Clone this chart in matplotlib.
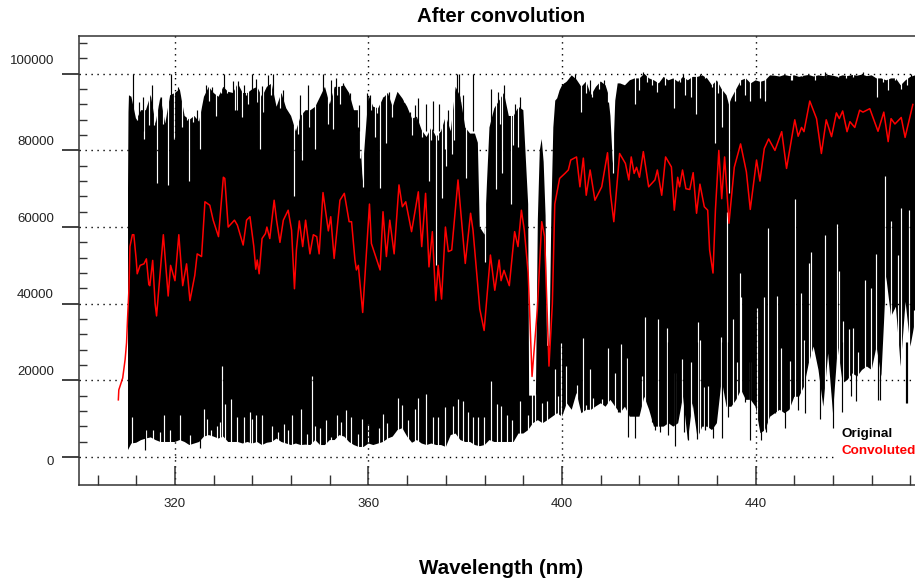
import matplotlib
matplotlib.use("Agg")
import matplotlib.pyplot as plt
from matplotlib.ticker import FixedLocator
from matplotlib.transforms import ScaledTranslation

# all intensities below are in thousands of counts

# upper edge of the original spectrum
hi_wl = [310.3, 310.4, 310.5, 311, 312, 313, 314, 315, 316, 317, 318, 319, 320, 321, 322, 323, 324, 325, 326, 327, 328, 329,
         330, 331, 332, 333, 334, 335, 336, 337, 338, 339, 340, 341, 342, 343, 344, 345, 346, 347, 348, 349,
         350, 351, 352, 353, 354, 355, 356, 357, 358, 358.8, 359, 360, 361, 362, 363, 364, 365, 366, 367, 368, 369,
         370, 371, 372, 373, 374, 375, 376, 377, 378, 379, 380, 381, 382, 382.6, 383, 384, 385, 386, 387, 388, 389,
         390, 391, 392, 393, 393.2, 394.6, 395, 395.4, 395.8, 396.2, 396.6, 396.9, 397.4, 397.8, 398.2, 398.6, 399, 399.5,
         400, 401, 402, 403, 404, 405, 406, 407, 408, 409, 409.5, 410, 410.5, 411, 411.5, 412, 413, 414, 415, 416, 417, 418, 419,
         420, 421, 422, 423, 424, 425, 426, 427, 428, 429, 430, 431, 432, 433, 434, 434.5, 435, 436, 437, 438, 439,
         440, 441, 442, 443, 444, 445, 446, 447, 448, 449, 450, 451, 452, 453, 454, 455, 456, 457, 458, 459,
         460, 461, 462, 463, 464, 465, 466, 467, 468, 469, 470, 471, 472, 473, 475]
hi_val = [70, 90, 94.4, 94, 88, 90.5, 90.5, 94.5, 87, 94, 87, 94.4, 95, 96, 89, 88, 89, 87.5, 94, 96.6, 95, 94,
          96.6, 95.3, 95, 97.5, 95, 95, 96, 96.6, 94, 96.6, 97.5, 91.4, 95, 91, 89, 85, 89, 90.5, 90.5, 91.4,
          94, 96.6, 92, 96.6, 96.6, 97, 95, 90.5, 90.5, 72, 78, 94.4, 91.4, 91, 93.6, 95, 91.4, 95.3, 93.6, 91.4, 88.3,
          88.8, 85.3, 83.5, 86, 83.5, 85, 89, 85, 96.6, 94, 86, 84.4, 84.4, 82, 60, 58, 86, 91, 93, 95, 89,
          89, 91.4, 90.5, 66, 16, 16, 62, 80, 83, 77, 63, 29, 29, 64, 86, 93, 93.6, 95.7,
          97, 98, 99.6, 98.5, 96.6, 98, 94.4, 96.6, 98, 97, 95, 89, 76.6, 93, 97.5, 97.5, 97, 98.3, 98.8, 98.8, 100, 98.8, 98.3,
          97.5, 99.2, 98.3, 98.8, 97.9, 99.2, 98.3, 99.2, 99.2, 99.6, 98.8, 97, 98.3, 96, 94.4, 92, 93.6, 96, 98.3, 98.8, 97.5,
          98.3, 97.9, 98.3, 99.6, 99.5, 99.3, 99.7, 99.4, 99.6, 99.2, 99.5, 99.7, 99.3, 99.6, 99.4, 99.7, 99.5, 99.2, 99.6, 99.4,
          99.7, 99.5, 99.8, 99.4, 99.6, 98.8, 98.8, 98.3, 98.8, 98.8, 97, 98.3, 99.2, 99.6, 99.6]

# lower edge of the original spectrum, one value per nm from 311 on
lo_wl = [310.3] + list(range(311, 474)) + [475]
lo_val = [1.8,
          3.5, 3.7, 4.4, 4.8, 5.1, 4.4, 3.9, 3.9, 3.9, 3.9, 4.4, 3.9, 3.1, 3.5, 3.9, 5.3, 5.7, 5.3, 4.8, 5.3,
          3.9, 3.9, 3.9, 3.5, 3.9, 3.5, 3.9, 3.1, 3.7, 3.9, 4.8, 3.9, 3.5, 3.1, 3.5, 3.1, 3.2, 3.1, 4.4, 3.1,
          3.1, 4.4, 4.4, 5.7, 5.3, 3.9, 3.1, 2.6, 2.6, 3.5, 3.1, 3.5, 3.9, 4.8, 5.3, 7, 7.5, 5.3, 3.7, 4.4,
          3.5, 3.1, 3.5, 3.1, 3.1, 2.6, 5.7, 6.1, 4.4, 3.9, 3.9, 3.1, 2.8, 3.1, 4.4, 3.9, 3.9, 3.9, 3.9, 3.9,
          6.1, 6.1, 7, 8.8, 9.6, 8.8, 9.6, 10.5, 11.4, 10.5, 14, 12.3, 16.7, 11.4, 12.3, 12.3, 13.2, 14,
          13.1, 14.9, 13.1, 11.4, 13.1, 10.5, 10.5, 10.5, 15.7, 12.3, 7.9, 7.9, 7.9, 8.8, 7.9, 8.8, 15.7, 4.4, 14, 4.9,
          7.9, 7.9, 7, 8.8, 20.1, 13.1, 13.1, 14.9, 17.5, 14.9, 14.9, 13.1, 6.2, 7, 10.5, 11.4, 12.3, 11.4, 12.3, 15.7,
          15.7, 18.3, 24.4, 28.8, 22.7, 13.1, 27, 11.4, 28.8, 19.2, 20.1, 21.8, 21, 22.7, 23.6, 22.7, 28.8, 21, 47, 36.6,
          39.2, 23.6, 40.5, 28.8, 35.7, 35.7]

# narrow absorption lines cutting down from the upper edge
dip_wl = [313.7, 316.2, 318.5, 319.8, 323, 325.2, 328.5, 332.5, 333.8, 335.2, 337.5, 344.6, 346.3, 347.8, 349, 351.7, 352.7,
          354.2, 358.8, 361.3, 362.4, 363.6, 368.9, 372.5, 373.9, 375.1, 376.1, 377.6, 380.1, 384, 386.3, 387.5, 389.4,
          390.9, 403.9, 410.6, 415, 416, 419.6, 423.2, 425.5, 426.6, 427.6, 431.6, 433, 434.5, 435.8, 437.9, 438.9,
          440.9, 442, 447.5, 452.2, 458.6, 465, 467.4, 470,
          311.7, 312.1, 314.7, 315.7, 317.6, 321.4, 322.5, 323.8, 327.1, 329.6, 330.7, 332.9, 334.7, 336.9, 338.3, 339.8,
          341.7, 342.9, 344.1, 345.5, 353.5, 357.7, 357.9, 358.2, 360.5, 361.8, 364.8, 367.3, 369.6, 371, 373, 374.4,
          375.9, 377.2, 379.2, 381, 387.2, 389.9, 390.6, 405, 406.2, 407.7, 409.5, 417.5, 418.5, 421.2, 424.3, 429.5,
          430.9, 432.2, 436.7, 441.9, 447.4, 449.5, 454.3, 457, 460.1, 463.2, 466.3, 468.8, 471.2]
dip_val = [83, 71.5, 71, 83, 72, 80.5, 89, 90.5, 88.6, 92, 80.5, 68, 77.5, 86, 80.5, 87, 85.7,
           92, 70.5, 83.6, 70.3, 82, 84, 72, 50, 67.5, 76, 82.7, 72.7, 51, 70, 74, 66,
           81, 90, 74, 92, 95.7, 95.3, 91, 94.4, 94, 89.6, 82, 86, 68.8, 93, 94.4, 93,
           93.6, 93, 98.3, 98.3, 98.8, 94, 95.7, 96,
           91, 88, 86.6, 86.6, 87, 86, 88, 87.5, 93, 95, 95, 90.5, 94.4, 92.7, 90, 94.4,
           91, 92, 89.7, 84.4, 94.4, 91.4, 86, 78, 90.5, 89.7, 88.8, 92.7, 88, 83.6, 82.7, 82.7,
           80.5, 79, 93, 86, 87, 81.4, 91, 94.9, 94, 96, 92.7, 97.9, 97, 97, 97.9, 98.8,
           96.6, 94.9, 97, 95.7, 98.5, 99.4, 98.8, 99.2, 99.2, 99.7, 97.9, 98.3, 97]

# sharp peaks above the upper edge
peak_wl = [311.3, 315.3, 319.2, 330.2, 336, 336.7, 339.3, 340.3, 347.4, 350.6, 370.3, 371.9, 373.4, 374.5, 376.5, 378.2,
           378.8, 379.6, 381.6, 385.4, 386.8, 388, 390.3, 391.4, 402.6,
           312.6, 313.3, 314.2, 316.8, 317.2, 320.2, 320.7, 324.5, 326.5, 327.7, 332, 333.1, 334.3, 337.9, 342.4, 345.8,
           352.2, 353.3, 354.8, 356.2, 358, 359.6, 360.4, 363, 364.3, 368.6, 369.6, 400.4, 405.7, 408.6,
           416.8, 425, 428.5, 454.3, 462.2, 472.2]
peak_val = [100, 97, 100, 100, 100, 98.6, 99.6, 100, 97, 100, 93.6, 92, 93, 92, 90.5, 100,
            100, 94.4, 100, 96, 95.3, 97, 92, 94, 100,
            92.7, 94, 91, 91.8, 94, 91.8, 96.6, 90.5, 97, 96.6, 98, 98.2, 97, 96.8, 95.7, 94.4,
            98.3, 98.8, 97.5, 94.9, 91.8, 94.9, 94.4, 94, 95.3, 90, 91.8, 97.5, 98.3, 98.3,
            100.5, 100, 100, 100.5, 100.5, 100]

# thin gaps rising from the lower edge
gap_wl = [311.2, 314.1, 315.4, 316.9, 317.7, 319, 321, 323.1, 326, 326.7, 327.4, 328.6, 329.3, 329.8, 330.3, 331.6, 332.9,
          334.2, 335.5, 336, 336.7, 338, 340, 341.4, 342.5, 343.4, 344.2, 346, 347.2, 348.4, 349, 350, 351.2, 352.2,
          353.5, 354.3, 355.3, 356.4, 357.9, 358.7, 360, 362.2, 363, 363.9, 366.1, 366.9, 368.1, 369.6, 370.3, 371.9,
          373.4, 374.4, 375.9, 377.4, 378.5, 379.6, 380.6, 381.6, 382.7, 383.8, 385.3, 386.6, 387.3, 388.7, 389.6,
          391.4, 393, 393.8, 394.4, 395.8, 396.9, 398.5, 399.2, 399.8, 400.8, 403, 404.4, 404.9, 405.8, 406.5, 408.2,
          409.5, 411, 412.1, 413.4, 416.5, 417.1, 419.9, 421.6, 423.4, 424.8, 426.7, 428.1, 428.5, 429.3, 430.2, 432.8,
          434, 435.4, 436.1, 436.7, 437, 438.8, 440.2, 441.8, 442.6, 444.4, 445.2, 447.1, 448.1, 449.3, 450, 451.1,
          451.5, 454.4, 456.8, 457.3, 458.1, 459.3, 460.1, 461.1, 462.7, 463.9, 464.8, 466.7, 468, 469.4, 470, 471.8, 472.8]
gap_val = [10.5, 7, 7, 6.6, 11, 7, 11, 5.7, 12.5, 9.8, 7, 8, 9.2, 23.7, 13.9, 15, 10.3,
           10.3, 11.6, 10, 11, 11, 8, 6.6, 8.6, 7, 11, 12.5, 6, 21, 8, 7.5, 9.6, 5.3,
           11, 9.2, 12.3, 10.5, 6, 10, 8.6, 7.5, 11.3, 8.8, 15.5, 13.6, 9.6, 12.5, 15.5, 16.4,
           10.5, 10.3, 12.9, 13.4, 15, 14.5, 11.8, 10.5, 10.3, 10.5, 19.7, 13.8, 13.4, 11, 9.6,
           14.5, 11, 19.7, 16.4, 14, 14.5, 23, 15.8, 29.8, 23.7, 18.8, 31, 13.5, 23, 15.5, 15,
           28.3, 21.8, 29.5, 25.7, 21, 36.6, 36, 33.6, 21.8, 25.5, 24.9, 35.3, 30.5, 18.3, 18.6, 31.4,
           64, 35.9, 24.9, 47.9, 41.8, 24.9, 38.8, 41.8, 59.7, 42, 28.3, 25, 67.3, 42.7, 30.5, 50.5,
           53.6, 58, 60.8, 48.6, 35.6, 33.3, 33.6, 27.5, 46.3, 44, 53, 73.4, 61.7, 52.7, 65, 64.4, 38.3]

# black strokes hanging below the lower edge
drop_wl = [313.8, 325.2, 413.7, 415, 419.2, 423.3, 426, 427.8, 431.2, 433.1, 438.9, 442.1, 446.1, 453.4, 456, 457.8,
           460.8, 465.3, 471, 411.5, 418.5, 420.2, 421.9, 425.2, 429.5, 434.3, 437.8, 441.2, 444, 448.8, 450.2, 455.7,
           459.8, 465.7, 471.2]
drop_val = [1.8, 2.4, 5.3, 4.9, 7, 2.9, 4.3, 4.6, 4.9, 4.9, 4.3, 6.4, 7.5, 10, 7.5, 11.6, 14.6, 14.9, 14,
            11.8, 9, 6.6, 5.7, 6.6, 7, 10.5, 14.4, 4.4, 11.4, 12.3, 11.4, 17, 16, 14.9, 14]

# convolved spectrum
conv_wl = [308.3, 308.4, 309.2, 309.7, 310, 310.2, 310.5, 310.7, 311.2, 311.5, 312, 312.2, 312.8, 313.6, 314.1, 314.6, 314.8,
           315.4, 315.9, 316.2, 317, 317.6, 318.6, 319.1, 320, 320.8, 321.6, 322.4, 323.1, 324.1, 324.6, 325.5, 326.2,
           327.2, 327.9, 329, 330, 330.3, 331, 332.3, 332.9, 334.1, 334.8, 335.5, 336.3, 336.7, 337, 337.4, 338, 338.7,
           339, 339.6, 340.5, 341, 341.7, 342.4, 343.4, 344.1, 344.7, 345.1, 345.7, 346.4, 347, 347.9, 348.6, 349.3,
           349.8, 350.6, 351.7, 352.2, 352.9, 354.1, 355, 356, 356.5, 357.2, 357.5, 357.9, 358.8, 360.2, 360.6, 361.3,
           362.4, 363, 363.7, 364.4, 365.3, 366.3, 367, 367.7, 368.9, 370.3, 371, 371.8, 372.5, 373.2, 373.9, 374.4,
           375.1, 375.9, 376.5, 377.2, 378.5, 380, 381.1, 381.6, 382.3, 383, 383.9, 385.2, 386.1, 387, 387.4, 388, 389.1,
           390.2, 390.9, 391.6, 392.2, 393, 393.8, 394.9, 395.8, 396.4, 397.3, 398, 398.5, 399.5, 400.6, 401.3, 401.8,
           403, 403.7, 404.4, 405, 405.8, 406.8, 408.2, 409.4, 410, 410.7, 411.9, 413.1, 413.8, 414.3, 414.9, 415.4, 416,
           416.8, 417.9, 419.2, 419.7, 420.6, 421.4, 422.6, 423.2, 423.9, 424.3, 424.9, 425.6, 426.4, 427.1, 427.8,
           428.5, 429.4, 430.1, 430.5, 431.2, 431.7, 432.4, 433, 433.6, 434.5, 435.6, 436.9, 438.1, 438.9, 440.2, 440.9,
           441.8, 442.7, 444, 445.4, 446.4, 448.1, 448.8, 449.5, 450, 451.2, 452.6, 453.6, 454.6, 455.7, 456.7, 457.3,
           458, 458.9, 459.5, 460.5, 461.5, 462.2, 463.6, 465.3, 466.5, 467.4, 468, 468.8, 470.1, 470.9, 472.5]
conv_val = [14.9, 17.5, 20.6, 25.4, 29.8, 36, 44, 54.9, 58, 58, 51.4, 47.8, 50, 50.4, 51.7, 45, 44.7,
            51.3, 40, 36.8, 49, 58, 42, 50, 46, 58, 44.7, 50.4, 40.8, 47.4, 53, 52.3, 66.6,
            65.7, 61.8, 57.5, 73, 72.7, 60, 61.8, 60.5, 55.3, 61.8, 62.7, 54.9, 49, 51.4, 47.8, 57, 58.3,
            60, 57, 67, 61.8, 56, 61.8, 64.4, 59.2, 43.9, 54, 61.6, 54.9, 61.8, 53, 58, 57.5,
            53, 69, 59, 62.7, 51.8, 67, 68.8, 61.4, 61.4, 51.4, 48.8, 50, 37.7, 66, 55.7, 53,
            48.8, 64, 52.3, 61.8, 53, 71, 65.3, 66.6, 58.8, 69.2, 54.9, 68.8, 49.6, 58.8, 40.8, 50,
            41.2, 60, 53.6, 54, 72.3, 50.5, 63.6, 59.2, 49, 38.6, 33, 52.7, 43.5, 51.4, 46, 48.7, 44.7,
            58.8, 54.9, 64.4, 59.2, 48, 21, 38.6, 61.4, 57.5, 23.7, 40, 66, 72.7, 74, 74.9, 77.5,
            78.3, 70.5, 78, 68.3, 74.9, 67, 70.5, 79.4, 68.8, 61.4, 79.2, 76.6, 72.3, 78.3, 74, 75.6, 73,
            79.7, 70.5, 72.3, 74.9, 68.3, 78.3, 75.7, 64.4, 73, 70.5, 74.9, 70, 69.8, 74.2, 63.6,
            71.2, 65.3, 64.4, 54, 48, 64.4, 80, 67.4, 78.3, 61, 75.6, 81.7, 74.4, 64.6, 77.5, 72,
            80.5, 83, 80, 84.9, 75.3, 88, 83.7, 86, 84.9, 92.9, 88.3, 79.2, 88, 83.6, 89.8, 88.3,
            90.3, 84.9, 87.5, 86, 90.5, 90, 90.9, 85, 90, 82.3, 88.3, 86.9, 88.6, 83.4, 92]

x_major = [320, 360, 400, 440]
x_minor = [304, 312, 328, 336, 344, 352, 368, 376, 384, 392, 408, 416, 424, 432, 448, 456, 464, 472]
y_major = [0, 20000, 40000, 60000, 80000, 100000]
y_minor = [4000, 8000, 12000, 16000, 24000, 28000, 32000, 36000, 44000, 48000, 52000, 56000,
           64000, 68000, 72000, 76000, 84000, 88000, 92000, 96000, 104000, 108000]
# how far each y label sits above its tick, in pixels
y_label_shift = [-4, 10, 10, 10, 10, 14]


def k(values):
    return [v * 1000 for v in values]


plt.rcParams["font.family"] = ["Liberation Sans", "DejaVu Sans"]

W, H = 915, 581
fig = plt.figure(figsize=(W / 100, H / 100), dpi=100)
ax = fig.add_axes([79 / W, (H - 484.5) / H, (923 - 79) / W, (484.5 - 35.5) / H])

# black body of the spectrum, then the thin lines cut into it
ax.fill(hi_wl + lo_wl[::-1], k(hi_val) + k(lo_val)[::-1], color="black", lw=0, zorder=1)
ax.vlines(dip_wl, k(dip_val), 110000, color="white", lw=0.85, zorder=1.1)
ax.vlines(gap_wl, -7000, k(gap_val), color="white", lw=0.85, zorder=1.1)
ax.vlines(peak_wl, 85000, k(peak_val), color="black", lw=0.85, zorder=1.2)
ax.vlines(drop_wl, k(drop_val), 30000, color="black", lw=0.85, zorder=1.2)
ax.plot(conv_wl, k(conv_val), color="red", lw=1.1, zorder=4)

ax.set_xlim(300.17, 474.6)
ax.set_ylim(-7200, 110000)

ax.set_xticks(x_major)
ax.xaxis.set_minor_locator(FixedLocator(x_minor))
ax.set_yticks(y_major)
ax.set_yticklabels([str(v) for v in y_major])
ax.yaxis.set_minor_locator(FixedLocator(y_minor))

ax.set_axisbelow(False)
ax.grid(True, which="major", color="black", lw=1, linestyle=(0, (1, 3.3)))

ax.tick_params(axis="x", which="major", direction="in", length=14, width=1.1, color="#333333",
               labelsize=9.5, labelcolor="#222222", pad=9.5)
ax.tick_params(axis="x", which="minor", direction="in", length=7.2, width=1, color="#333333")
ax.tick_params(axis="y", which="major", direction="out", length=12.2, width=1.3, color="#333333",
               labelsize=9.5, labelcolor="#222222", pad=5.8)
ax.tick_params(axis="y", which="minor", direction="in", length=5.8, width=1, color="#333333")

for label, shift in zip(ax.get_yticklabels(), y_label_shift):
    label.set_transform(label.get_transform() + ScaledTranslation(0, shift / 100, fig.dpi_scale_trans))

for spine in ax.spines.values():
    spine.set_color("#333333")
    spine.set_linewidth(1.1)

ax.set_title("After convolution", fontsize=14.7, fontweight="bold", pad=9.5)
ax.set_xlabel("Wavelength (nm)", fontsize=14.8, fontweight="bold", labelpad=35.5)

# key in the lower right corner
ax.text(841 / W, (H - 434) / H, "Original", transform=fig.transFigure, color="black", fontsize=9.7,
        fontweight="bold", va="center", zorder=6,
        bbox=dict(facecolor="white", edgecolor="none", pad=3))
ax.text(841 / W, (H - 451) / H, "Convoluted", transform=fig.transFigure, color="red", fontsize=9.7,
        fontweight="bold", va="center", zorder=6,
        bbox=dict(facecolor="white", edgecolor="none", pad=3))

fig.savefig("out.png", dpi=100)
